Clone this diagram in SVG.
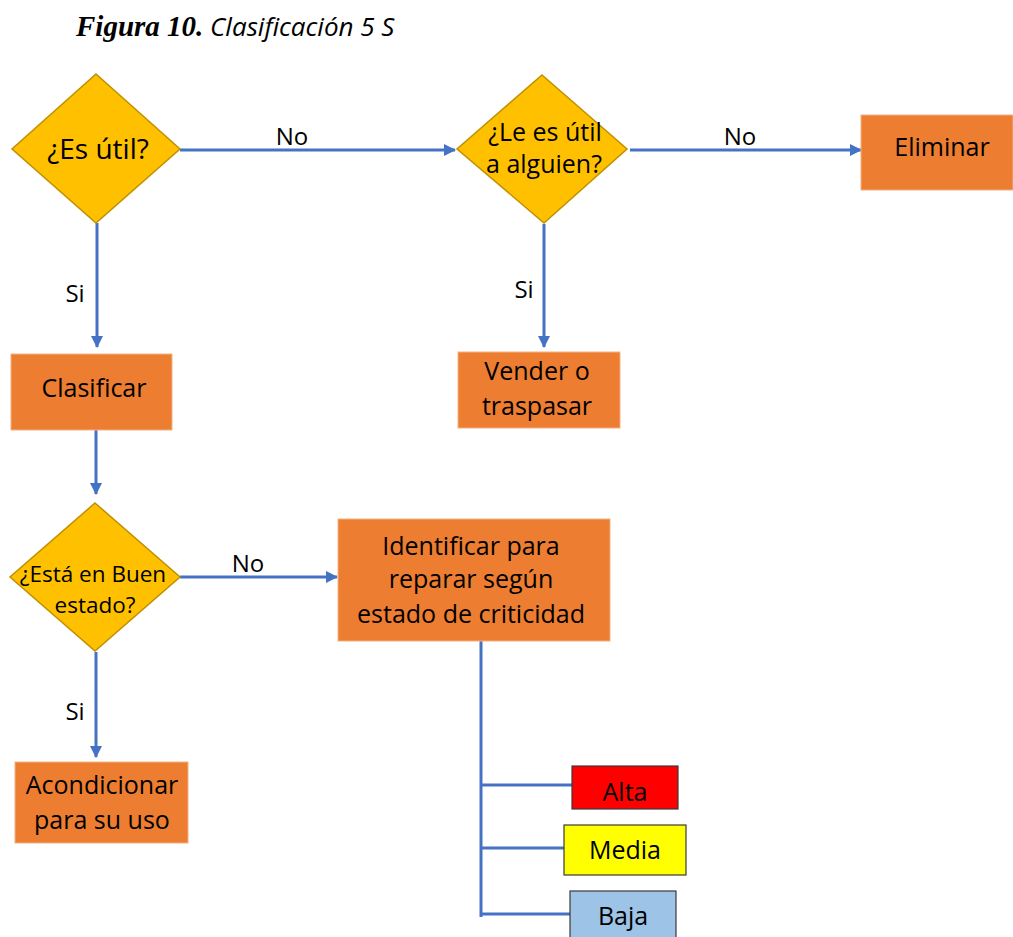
<svg xmlns="http://www.w3.org/2000/svg" width="1013" height="937" viewBox="0 0 1013 937">
  <defs>
    <marker id="arrow" viewBox="0 0 12 12" refX="11" refY="6" markerWidth="12" markerHeight="12" markerUnits="userSpaceOnUse" orient="auto">
      <path d="M0,0 L12,6 L0,12 z" fill="#4472C4"/>
    </marker>
  </defs>
  <style>
    .dec { fill: #FFC000; stroke: #BF9000; stroke-width: 1.5; }
    .box { fill: #ED7D31; stroke: #F4B183; stroke-width: 1; }
    .lvl { stroke: #3A3A3A; stroke-width: 1.2; }
    .t { font-family: "Open Sans", "Noto Sans", sans-serif; font-size: 25px; fill: #000; text-anchor: middle; }
    .big { font-size: 28px; }
    .small { font-size: 22.5px; }
    .lbl { font-family: "Open Sans", "Noto Sans", sans-serif; font-size: 24px; fill: #000; text-anchor: middle; }
    .conn line { stroke: #4472C4; stroke-width: 3; fill: none; }
  </style>
  <rect width="1013" height="937" fill="#fff"/>

  <!-- caption -->
  <text x="76" y="36" fill="#000"><tspan font-family="'Liberation Serif', serif" font-weight="bold" font-style="italic" font-size="29">Figura 10.</tspan><tspan font-family="'Open Sans', sans-serif" font-style="italic" font-size="26"> Clasificación 5 S</tspan></text>

  <!-- connectors -->
  <g id="connectors" class="conn">
    <line x1="180" y1="150" x2="455" y2="150" marker-end="url(#arrow)"/>
    <line x1="630" y1="150" x2="861" y2="150" marker-end="url(#arrow)"/>
    <line x1="97" y1="223" x2="97" y2="347" marker-end="url(#arrow)"/>
    <line x1="544" y1="224" x2="544" y2="347" marker-end="url(#arrow)"/>
    <line x1="96" y1="430" x2="96" y2="494" marker-end="url(#arrow)"/>
    <line x1="180" y1="577" x2="337" y2="577" marker-end="url(#arrow)"/>
    <line x1="96" y1="652" x2="96" y2="757" marker-end="url(#arrow)"/>
    <line x1="481" y1="641" x2="481" y2="917"/>
    <line x1="481" y1="785" x2="572" y2="785"/>
    <line x1="481" y1="848" x2="565" y2="848"/>
    <line x1="481" y1="914" x2="571" y2="914"/>
  </g>
  <g id="edge-labels">
    <text class="lbl" x="292" y="145">No</text>
    <text class="lbl" x="740" y="145">No</text>
    <text class="lbl" x="75" y="302">Si</text>
    <text class="lbl" x="524" y="298">Si</text>
    <text class="lbl" x="248" y="572">No</text>
    <text class="lbl" x="75" y="720">Si</text>
  </g>

  <!-- decisions -->
  <g id="es-util">
    <polygon class="dec" points="96,74 180,149 96,223 12,149"/>
    <text class="t big" x="98" y="159">¿Es útil?</text>
  </g>
  <g id="util-alguien">
    <polygon class="dec" points="542,75 627,149 544,223 457,149"/>
    <text class="t" x="545" y="141">¿Le es útil</text>
    <text class="t" x="544" y="173">a alguien?</text>
  </g>
  <g id="buen-estado">
    <polygon class="dec" points="95,503 180,577 95,651 10,577"/>
    <text class="t small" x="93" y="582">¿Está en Buen</text>
    <text class="t small" x="95" y="613">estado?</text>
  </g>

  <!-- processes -->
  <g id="eliminar">
    <rect class="box" x="861" y="115" width="152" height="75"/>
    <text class="t" x="942" y="156">Eliminar</text>
  </g>
  <g id="clasificar">
    <rect class="box" x="11" y="354" width="161" height="76"/>
    <text class="t" x="94" y="397">Clasificar</text>
  </g>
  <g id="vender">
    <rect class="box" x="458" y="352" width="162" height="76"/>
    <text class="t" x="537" y="380">Vender o</text>
    <text class="t" x="537" y="415">traspasar</text>
  </g>
  <g id="identificar">
    <rect class="box" x="338" y="519" width="272" height="122"/>
    <text class="t" x="471" y="555">Identificar para</text>
    <text class="t" x="471" y="588">reparar según</text>
    <text class="t" x="471" y="623">estado de criticidad</text>
  </g>
  <g id="acondicionar">
    <rect class="box" x="15" y="762" width="173" height="81"/>
    <text class="t" x="102" y="794">Acondicionar</text>
    <text class="t" x="102" y="829">para su uso</text>
  </g>

  <!-- criticality levels -->
  <g id="alta">
    <rect class="lvl" x="572" y="766" width="106" height="43" fill="#FF0000"/>
    <text class="t" x="625" y="801">Alta</text>
  </g>
  <g id="media">
    <rect class="lvl" x="564" y="825" width="122" height="50" fill="#FFFF00"/>
    <text class="t" x="625" y="859">Media</text>
  </g>
  <g id="baja">
    <rect class="lvl" x="570" y="891" width="106" height="50" fill="#9DC3E6"/>
    <text class="t" x="623" y="925">Baja</text>
  </g>
</svg>
